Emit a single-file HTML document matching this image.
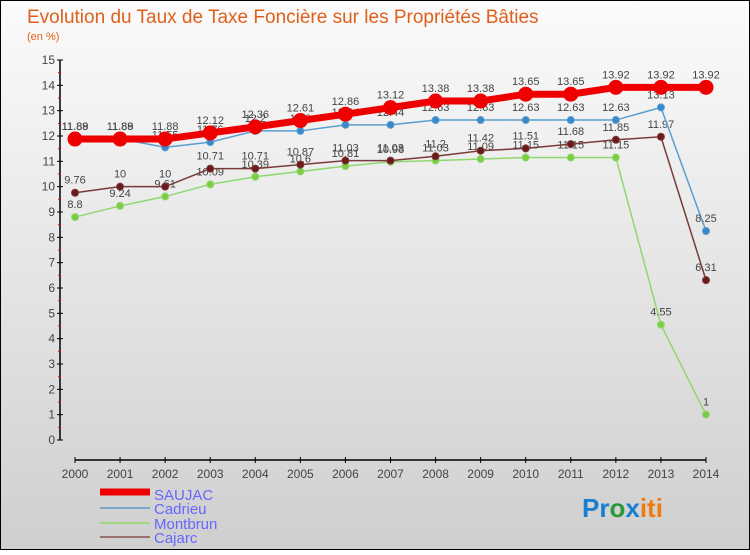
<!DOCTYPE html>
<html><head><meta charset="utf-8"><style>
body{margin:0;width:750px;height:550px;overflow:hidden;font-family:"Liberation Sans",sans-serif}
svg text{font-family:"Liberation Sans",sans-serif}
</style></head><body>
<svg id="c" width="750" height="550" xmlns="http://www.w3.org/2000/svg">
<defs><linearGradient id="bg" x1="0" y1="0" x2="0" y2="1"><stop offset="0" stop-color="#fbfbfb"/><stop offset="1" stop-color="#cfcfcf"/></linearGradient></defs>
<rect x="0.5" y="0.5" width="749" height="549" fill="url(#bg)" stroke="#000"/>
<text x="27" y="23" font-size="19" fill="#e0601a">Evolution du Taux de Taxe Foncière sur les Propriétés Bâties</text>
<text x="27" y="40" font-size="11" fill="#e0601a">(en %)</text>
<g id="axes"></g><g id="series"></g>
<g>
<line x1="100" y1="492" x2="150" y2="492" stroke="#e00" stroke-width="7"/>
<text x="154" y="500" font-size="15" fill="#66f">SAUJAC</text>
<line x1="100" y1="508" x2="150" y2="508" stroke="#7ba7c8" stroke-width="2"/>
<text x="154" y="514" font-size="15" fill="#66f">Cadrieu</text>
<line x1="100" y1="523" x2="150" y2="523" stroke="#9fd880" stroke-width="2"/>
<text x="154" y="529" font-size="15" fill="#66f">Montbrun</text>
<line x1="100" y1="537" x2="150" y2="537" stroke="#987070" stroke-width="2"/>
<text x="154" y="543" font-size="15" fill="#66f">Cajarc</text>
</g>
<text x="582" y="517" font-size="26" font-weight="bold"><tspan fill="#1a7fd0">Pr</tspan><tspan fill="#2a9a3a">o</tspan><tspan fill="#1a7fd0">x</tspan><tspan fill="#f07a10">iti</tspan></text>
</svg>
<script>
const years=[2000,2001,2002,2003,2004,2005,2006,2007,2008,2009,2010,2011,2012,2013,2014];
const saujac=[11.88,11.88,11.88,12.12,12.36,12.61,12.86,13.12,13.38,13.38,13.65,13.65,13.92,13.92,13.92];
const cadrieu=[11.89,11.89,11.55,11.76,12.2,12.2,12.44,12.44,12.63,12.63,12.63,12.63,12.63,13.13,8.25];
const montbrun=[8.8,9.24,9.61,10.09,10.39,10.6,10.81,10.98,11.03,11.09,11.15,11.15,11.15,4.55,1];
const cajarc=[9.76,10,10,10.71,10.71,10.87,11.03,11.03,11.2,11.42,11.51,11.68,11.85,11.97,6.31];
const yTicks=[0,1,2,3,4,5,6,7,8,9,10,11,12,13,14,15];
const NS="http://www.w3.org/2000/svg";
const X=i=>75+i*(706-75)/(years.length-1);
const Y=v=>440-v*(380/15);
function mk(tag,attrs,parent){const e=document.createElementNS(NS,tag);for(const k in attrs)e.setAttribute(k,attrs[k]);parent.appendChild(e);return e;}
const ax=document.getElementById('axes');
let e=mk('line',{x1:60,y1:Y(15),x2:60,y2:Y(0),stroke:'#000','stroke-width':1.5},ax);


yTicks.forEach(t=>{
 let l=mk('line',{x1:57,y1:Y(t),x2:63,y2:Y(t),stroke:'#000'},ax);
 
 
 if(t<15){let m=mk('line',{x1:58,y1:Y(t+0.5),x2:61,y2:Y(t+0.5),stroke:'#e00'},ax);
 
 }
 let tx=mk('text',{x:55,y:Y(t)+4,'font-size':12,fill:'#444','text-anchor':'end'},ax);tx.textContent=t;
 
 
});
e=mk('line',{x1:75,y1:460,x2:706,y2:460,stroke:'#000','stroke-width':1.5},ax);


years.forEach((yr,i)=>{
 let l=mk('line',{x1:X(i),y1:457,x2:X(i),y2:463,stroke:'#000'},ax);
 
 
 let tx=mk('text',{x:X(i),y:466+12,'font-size':12,fill:'#444','text-anchor':'middle'},ax);tx.textContent=yr;
 
 
});
const sg=document.getElementById('series');
function draw(name,vals,color,w,r,dot){
 const g=mk('g',{},sg);
 
 
 let p=mk('polyline',{points:vals.map((v,i)=>X(i)+','+Y(v)).join(' '),fill:'none',stroke:color,'stroke-width':w},g);
 
 
 vals.forEach((v,i)=>{
  let c=mk('circle',{cx:X(i),cy:Y(v),r:r,fill:dot,stroke:color,'stroke-width':1},g);
  
  
  let t=mk('text',{x:X(i),y:Y(v)-9,'font-size':11,fill:'#444','text-anchor':'middle'},g);t.textContent=v;
  
  
 });
}
draw('montbrun',montbrun,'#8fd870',1.5,3.5,'#7ccc44');
draw('cajarc',cajarc,'#7a3a3a',1.5,3.5,'#6a1a1a');
draw('cadrieu',cadrieu,'#5a9ed0',1.5,3.5,'#3a88c8');
draw('saujac',saujac,'#ee0000',7,7,'#ee0000');
</script>
</body></html>
